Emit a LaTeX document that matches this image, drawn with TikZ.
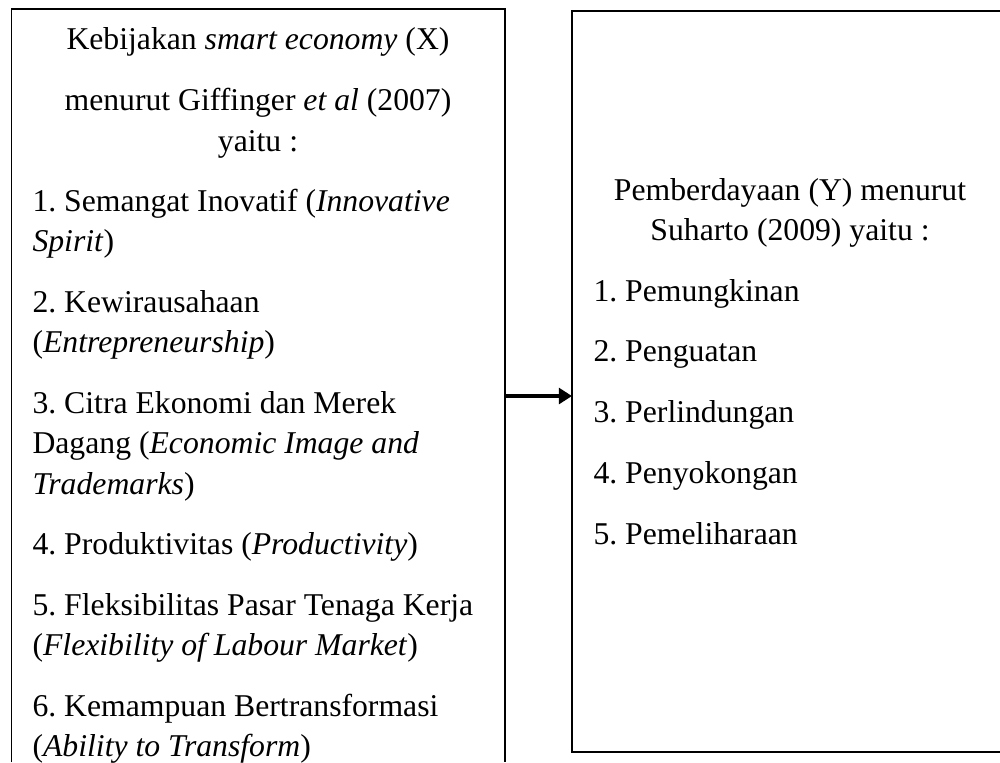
\documentclass[tikz,border=0pt]{standalone}
\usepackage{fontspec}
\setmainfont{Liberation Serif}
\frenchspacing
\usetikzlibrary{arrows.meta}

\begin{document}
\begin{tikzpicture}[x=0.3785pt, y=-0.3785pt,
  every node/.style={inner sep=0pt, font=\fontsize{12}{15}\selectfont},
  txtline/.style={anchor=base west},
  txttitle/.style={anchor=base}]
  \useasboundingbox (0,0) rectangle (1000,762);

  % left box, open at the bottom
  \draw[line width=0.65pt] (11.5,762) -- (11.5,9) -- (505,9) -- (505,762);
  % right box, runs off the right edge
  \draw[line width=1pt] (1000,11) -- (572,11) -- (572,752) -- (1000,752);

  % variabel X
  \node[txttitle] (xt1) at (258,49.5) {Kebijakan \textit{smart economy} (X)};
  \node[txttitle] (xt2) at (258,110.5) {menurut Giffinger \textit{et al} (2007)};
  \node[txttitle] (xt3) at (258,151) {yaitu :};

  \node[txtline] (x1a) at (32,211) {1. Semangat Inovatif (\textit{Innovative}};
  \node[txtline] (x1b) at (32,251.5) {\textit{Spirit})};
  \node[txtline] (x2a) at (32,312) {2. Kewirausahaan};
  \node[txtline] (x2b) at (32,352.5) {(\textit{Entrepreneurship})};
  \node[txtline] (x3a) at (32,413) {3. Citra Ekonomi dan Merek};
  \node[txtline] (x3b) at (32,453.5) {Dagang (\textit{Economic Image and}};
  \node[txtline] (x3c) at (32,494) {\textit{Trademarks})};
  \node[txtline] (x4a) at (32,554.5) {4. Produktivitas (\textit{Productivity})};
  \node[txtline] (x5a) at (32,615) {5. Fleksibilitas Pasar Tenaga Kerja};
  \node[txtline] (x5b) at (32,655.5) {(\textit{Flexibility of Labour Market})};
  \node[txtline] (x6a) at (32,716) {6. Kemampuan Bertransformasi};
  \node[txtline] (x6b) at (32,756.5) {(\textit{Ability to Transform})};

  % variabel Y
  \node[txttitle] (yt1) at (790,200.5) {Pemberdayaan (Y) menurut};
  \node[txttitle] (yt2) at (790,240.5) {Suharto (2009) yaitu :};

  \node[txtline] (y1) at (593,301.5) {1. Pemungkinan};
  \node[txtline] (y2) at (593,361.5) {2. Penguatan};
  \node[txtline] (y3) at (593,422.5) {3. Perlindungan};
  \node[txtline] (y4) at (593,483.5) {4. Penyokongan};
  \node[txtline] (y5) at (593,544.5) {5. Pemeliharaan};

  % X -> Y
  \coordinate (xout) at (505,396);
  \coordinate (yin) at (572,396);
  \draw[line width=1.3pt, -{Triangle[length=5pt, width=6pt]}] (xout) -- (yin);
\end{tikzpicture}
\end{document}
